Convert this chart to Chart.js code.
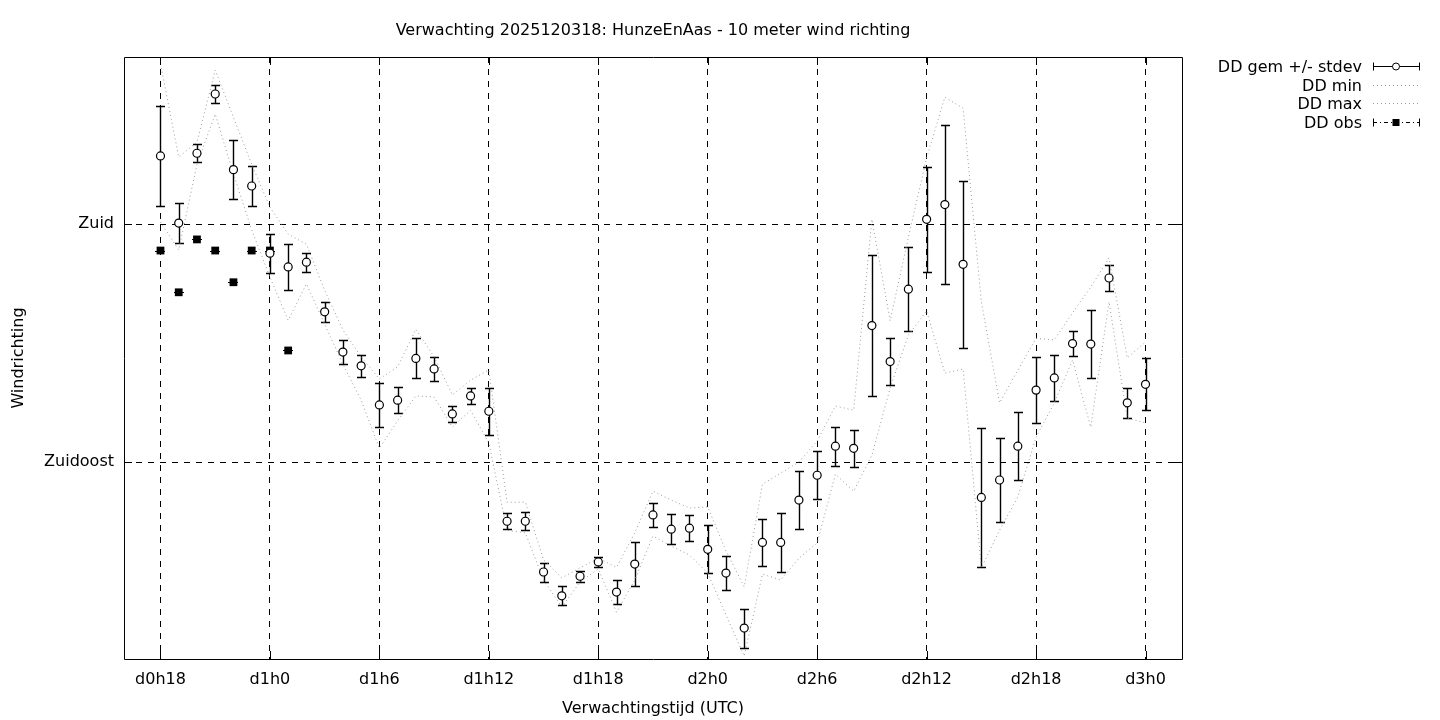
<!DOCTYPE html>
<html lang="nl">
<head>
<meta charset="utf-8">
<title>Verwachting 2025120318: HunzeEnAas - 10 meter wind richting</title>
<script src="https://cdn.jsdelivr.net/npm/chart.js@4/dist/chart.umd.min.js"></script>
<style>
  html, body { margin: 0; background: #fff; }
  canvas { display: block; }
</style>
</head>
<body>
<canvas id="chart" width="1440" height="720"></canvas>
<script>
// forecast hours since d0h0
const hours = [18, 19, 20, 21, 22, 23, 24, 25, 26, 27, 28, 29, 30, 31, 32, 33, 34, 35, 36, 37,
  38, 39, 40, 41, 42, 43, 44, 45, 46, 47, 48, 49, 50, 51, 52, 53, 54, 55, 56, 57,
  58, 59, 60, 61, 62, 63, 64, 65, 66, 67, 68, 69, 70, 71, 72];
const ddMean = [192.9, 180.2, 193.4, 204.6, 190.3, 187.2, 174.5, 171.9, 172.8, 163.4,
  155.8, 153.2, 145.8, 146.7, 154.6, 152.6, 144.1, 147.5, 144.6, 123.8,
  123.8, 114.2, 109.7, 113.4, 116.1, 110.4, 115.7, 125.0, 122.3, 122.5,
  118.5, 114.0, 103.6, 119.8, 119.8, 127.8, 132.5, 138.0, 137.6, 160.8,
  154.0, 167.7, 180.9, 183.7, 172.4, 128.3, 131.6, 138.0, 148.6, 150.9,
  157.4, 157.3, 169.8, 146.2, 149.7];
const ddStdev = [9.5, 3.7, 1.7, 1.7, 5.6, 3.8, 3.7, 4.3, 1.8, 1.9,
  2.2, 2.1, 4.2, 2.5, 3.8, 2.2, 1.5, 1.5, 4.4, 1.5,
  1.7, 1.8, 1.8, 1.0, 0.9, 2.2, 4.1, 2.3, 2.8, 2.4,
  4.5, 3.2, 3.7, 4.4, 5.6, 5.5, 4.5, 3.7, 3.5, 13.4,
  4.4, 8.0, 9.9, 15.0, 15.8, 13.1, 7.9, 6.4, 6.2, 4.4,
  2.3, 6.5, 2.4, 2.8, 4.9];
const ddMin = [180.4, 175.1, 191.3, 200.8, 189.5, 178.9, 170.0, 161.8, 168.7, 161.1,
  153.5, 146.7, 137.6, 142.8, 147.5, 147.3, 141.6, 144.8, 138.6, 122.1,
  121.6, 112.7, 107.6, 112.3, 114.8, 106.6, 112.7, 121.0, 119.1, 117.4,
  114.0, 106.1, 98.3, 113.8, 112.7, 116.8, 119.7, 132.7, 129.5, 136.3,
  149.0, 159.0, 163.6, 151.8, 152.6, 115.0, 122.1, 128.4, 139.7, 146.2,
  154.3, 141.6, 165.3, 143.3, 142.4];
const ddMax = [210.3, 192.7, 195.5, 209.1, 200.2, 191.3, 183.2, 178.1, 176.2, 167.5,
  160.0, 154.9, 150.7, 153.0, 160.1, 154.9, 147.7, 150.5, 152.4, 127.4,
  127.4, 116.5, 113.1, 115.0, 116.8, 115.1, 121.6, 129.5, 127.8, 126.3,
  126.5, 118.2, 111.4, 130.8, 132.9, 135.0, 139.0, 145.6, 144.8, 180.9,
  161.7, 177.5, 192.5, 204.0, 201.9, 165.3, 146.2, 152.4, 158.4, 158.1,
  163.2, 168.1, 173.6, 154.7, 157.7];
const obsHours = [18, 19, 20, 21, 22, 23, 24, 25];
const ddObs = [175.0, 167.1, 177.1, 175.0, 169.0, 175.0, 175.0, 156.1];

const xTickValues = [18, 24, 30, 36, 42, 48, 54, 60, 66, 72];
const xTickLabels = ["d0h18", "d1h0", "d1h6", "d1h12", "d1h18", "d2h0", "d2h6", "d2h12", "d2h18", "d3h0"];
const yTickValues = [135, 180];
const yTickLabels = ["Zuidoost", "Zuid"];

const FONT = "'DejaVu Sans', sans-serif";
Chart.defaults.font.family = FONT;
Chart.defaults.font.size = 16;
Chart.defaults.color = "#000";

const points = (xs, ys) => xs.map((x, i) => ({ x, y: ys[i] }));
const crisp = (v) => Math.round(v) + 0.5;

const errorBars = {
  id: "errorBars",
  beforeDatasetsDraw(chart) {
    const { ctx, scales: { x, y } } = chart;
    ctx.save();
    ctx.strokeStyle = "#000";
    ctx.lineWidth = 1.4;
    ctx.beginPath();
    hours.forEach((h, i) => {
      const cx = crisp(x.getPixelForValue(h));
      const top = crisp(y.getPixelForValue(ddMean[i] + ddStdev[i]));
      const bottom = crisp(y.getPixelForValue(ddMean[i] - ddStdev[i]));
      ctx.moveTo(cx, top); ctx.lineTo(cx, bottom);
      ctx.moveTo(cx - 4.5, top); ctx.lineTo(cx + 4.5, top);
      ctx.moveTo(cx - 4.5, bottom); ctx.lineTo(cx + 4.5, bottom);
    });
    ctx.stroke();
    ctx.lineWidth = 1;
    ctx.beginPath();
    obsHours.forEach((h, i) => {
      const cx = Math.round(x.getPixelForValue(h));
      const cy = crisp(y.getPixelForValue(ddObs[i]));
      ctx.moveTo(cx - 5, cy); ctx.lineTo(cx + 5, cy);
    });
    ctx.stroke();
    ctx.restore();
  }
};

const frame = {
  id: "frame",
  afterDraw(chart) {
    const { ctx, chartArea: a, scales: { x, y } } = chart;
    ctx.save();
    ctx.strokeStyle = "#000";
    ctx.lineWidth = 1;
    ctx.beginPath();
    ctx.rect(crisp(a.left), crisp(a.top), Math.round(a.right - a.left), Math.round(a.bottom - a.top));
    xTickValues.forEach((v) => {
      const cx = crisp(x.getPixelForValue(v));
      ctx.moveTo(cx, a.bottom); ctx.lineTo(cx, a.bottom - 8);
      ctx.moveTo(cx, a.top); ctx.lineTo(cx, a.top + 8);
    });
    yTickValues.forEach((v) => {
      const cy = crisp(y.getPixelForValue(v));
      ctx.moveTo(a.left, cy); ctx.lineTo(a.left + 8, cy);
      ctx.moveTo(a.right, cy); ctx.lineTo(a.right - 8, cy);
    });
    ctx.stroke();
    ctx.restore();
  }
};

// gnuplot style key, top right outside the plot
const keyBox = {
  id: "keyBox",
  afterDraw(chart) {
    const ctx = chart.ctx;
    const x0 = 1373, x1 = 1420, mid = 1396;
    ctx.save();
    ctx.font = `16px ${FONT}`;
    ctx.textAlign = "right";
    ctx.textBaseline = "middle";
    chart.data.datasets.forEach((ds, i) => {
      const yy = crisp(66 + i * 18.7);
      ctx.fillStyle = "#000";
      ctx.fillText(ds.label, 1362, yy + 1);
      ctx.lineWidth = 1;
      ctx.strokeStyle = ds.key === "dotted" ? ds.borderColor : "#000";
      ctx.setLineDash(ds.key === "dotted" ? [1, 3] : ds.key === "obs" ? [4, 3, 1, 3] : []);
      ctx.beginPath();
      ctx.moveTo(x0, yy); ctx.lineTo(x1, yy);
      ctx.stroke();
      ctx.setLineDash([]);
      if (ds.key === "dotted") return;
      ctx.beginPath();
      ctx.moveTo(x0 + 0.5, yy - 4); ctx.lineTo(x0 + 0.5, yy + 4);
      ctx.moveTo(x1 - 0.5, yy - 4); ctx.lineTo(x1 - 0.5, yy + 4);
      ctx.stroke();
      if (ds.key === "errorbar") {
        ctx.beginPath();
        ctx.arc(mid, yy, 3.5, 0, Math.PI * 2);
        ctx.fillStyle = "#fff";
        ctx.fill();
        ctx.stroke();
      } else {
        ctx.fillStyle = "#000";
        ctx.fillRect(mid - 3.5, yy - 3.5, 7, 7);
      }
    });
    ctx.restore();
  }
};

new Chart(document.getElementById("chart"), {
  type: "line",
  data: {
    datasets: [
      { label: "DD gem +/- stdev", key: "errorbar", data: points(hours, ddMean), showLine: false,
        pointStyle: "circle", pointRadius: 4, pointBackgroundColor: "#fff", pointBorderColor: "#000", pointBorderWidth: 1.2 },
      { label: "DD min", key: "dotted", data: points(hours, ddMin), borderColor: "#9a9a9a", borderWidth: 1,
        borderDash: [1, 3], pointRadius: 0, fill: false, tension: 0 },
      { label: "DD max", key: "dotted", data: points(hours, ddMax), borderColor: "#9a9a9a", borderWidth: 1,
        borderDash: [1, 3], pointRadius: 0, fill: false, tension: 0 },
      { label: "DD obs", key: "obs", data: points(obsHours, ddObs), showLine: false,
        pointStyle: "rect", pointRadius: 5.5, pointBackgroundColor: "#000", pointBorderColor: "#000", pointBorderWidth: 0 }
    ]
  },
  options: {
    responsive: false,
    animation: false,
    events: [],
    layout: { padding: { left: 0, right: 258, top: 0, bottom: 0 } },
    plugins: {
      legend: { display: false },
      tooltip: { enabled: false },
      title: {
        display: true,
        fullSize: false,
        text: "Verwachting 2025120318: HunzeEnAas - 10 meter wind richting",
        font: { size: 16, weight: "normal" },
        color: "#000",
        padding: { top: 21, bottom: 16.8 }
      }
    },
    scales: {
      x: {
        type: "linear",
        min: 16,
        max: 74,
        afterBuildTicks: (s) => { s.ticks = xTickValues.map((value) => ({ value })); },
        afterFit: (s) => { s.height = 61; },
        ticks: { callback: (v, i) => xTickLabels[i], padding: 11, maxRotation: 0, autoSkip: false },
        grid: { color: "#000", lineWidth: 1, drawTicks: false },
        border: { display: false, dash: [6, 6] },
        title: { display: true, text: "Verwachtingstijd (UTC)", padding: { top: 0, bottom: 2 } }
      },
      y: {
        type: "linear",
        min: 97.75,
        max: 211.6,
        afterBuildTicks: (s) => { s.ticks = yTickValues.map((value) => ({ value })); },
        afterFit: (s) => { s.width = 124; },
        ticks: { callback: (v, i) => yTickLabels[i], padding: 10 },
        grid: { color: "#000", lineWidth: 1, drawTicks: false },
        border: { display: false, dash: [6, 6] },
        title: { display: true, text: "Windrichting", padding: { top: 9, bottom: 0 } }
      }
    }
  },
  plugins: [errorBars, frame, keyBox]
});
</script>
</body>
</html>
